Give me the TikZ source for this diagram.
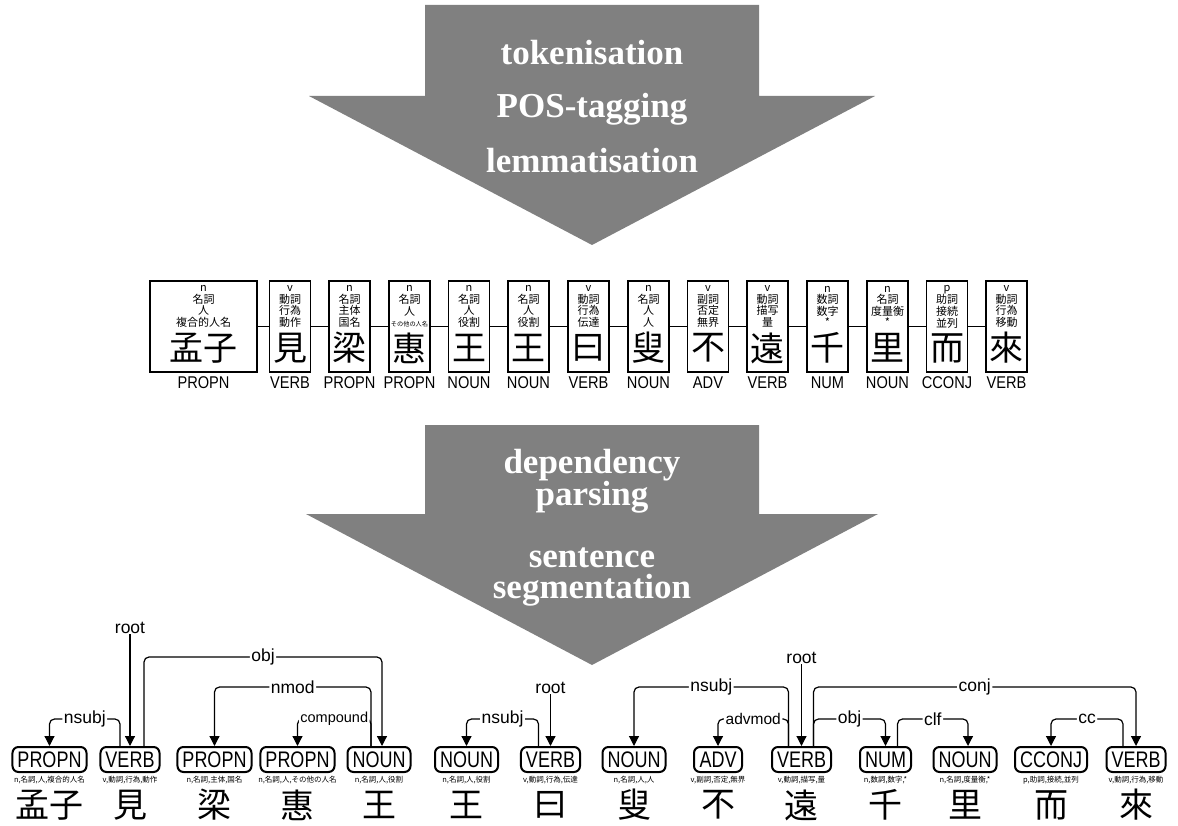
\documentclass[tikz,border=0pt]{standalone}
\usepackage{fontspec}
\setmainfont{Liberation Serif}
\setsansfont{Liberation Sans}
\newfontfamily\cjk{Noto Sans CJK JP}
\newfontfamily\narrowsans[FakeStretch=0.8]{Liberation Sans}
\newfontfamily\uposfont[FakeStretch=0.86]{Liberation Sans}
\usetikzlibrary{arrows.meta,positioning}
\definecolor{stepgray}{RGB}{128,128,128}

\begin{document}
\begin{tikzpicture}[x=1pt,y=-1pt,
  steptext/.style={anchor=base,text=white,inner sep=0,font=\bfseries\fontsize{35}{35}\selectfont},
  tok/.style={draw,line width=1.2pt,minimum width=41pt,minimum height=91pt,inner sep=0},
  feat/.style={align=center,inner sep=0,font=\cjk\fontsize{11}{11.6}\selectfont},
  bigch/.style={inner sep=0,font=\cjk\fontsize{34}{34}\selectfont},
  upos/.style={inner sep=0,font=\uposfont\fontsize{17}{17}\selectfont},
  posbox/.style={draw,line width=2pt,rounded corners=6pt,minimum height=25pt,minimum width=48pt,inner xsep=5pt,inner ysep=0pt,font=\narrowsans\fontsize{22.5}{22.5}\selectfont},
  featsm/.style={inner sep=0,font=\cjk\fontsize{7.5}{7.5}\selectfont},
  arclab/.style={fill=white,inner xsep=1.5pt,inner ysep=0.5pt,font=\sffamily\fontsize{17.5}{17.5}\selectfont},
  dep/.style={line width=1.2pt,rounded corners=5pt,->},
  >={Triangle[length=10pt,width=10pt]}]
\useasboundingbox (0,0) rectangle (1178,826);

% the two big arrows
\fill[stepgray] (425,5) -- (759,5) -- (759,96) -- (875,96) -- (592,245) -- (309,96) -- (425,96) -- cycle;
\fill[stepgray] (425,425) -- (759,425) -- (759,514) -- (878,514) -- (592,665) -- (306,514) -- (425,514) -- cycle;
\node[steptext] (s1) at (592,65) {tokenisation};
\node[steptext] (s2) at (592,118) {POS-tagging};
\node[steptext] (s3) at (592,173) {lemmatisation};
\node[steptext] (s4) at (592,473) {dependency};
\node[steptext] (s5) at (592,505) {parsing};
\node[steptext] (s6) at (592,567) {sentence};
\node[steptext] (s7) at (592,598) {segmentation};

% tokens
\node[tok,minimum width=107pt] (b1) at (203.5,326.5) {};
\node[tok] (b2) at (290,326.5) {};
\node[tok] (b3) at (349.5,326.5) {};
\node[tok] (b4) at (409.5,326.5) {};
\node[tok] (b5) at (469,326.5) {};
\node[tok] (b6) at (528.5,326.5) {};
\node[tok] (b7) at (588.5,326.5) {};
\node[tok] (b8) at (648.5,326.5) {};
\node[tok] (b9) at (708,326.5) {};
\node[tok] (b10) at (767.5,326.5) {};
\node[tok] (b11) at (827.5,326.5) {};
\node[tok] (b12) at (887.5,326.5) {};
\node[tok] (b13) at (947,326.5) {};
\node[tok] (b14) at (1006.5,326.5) {};
\draw[line width=1.2pt] (b1) -- (b2) (b2) -- (b3) (b3) -- (b4) (b4) -- (b5) (b5) -- (b6) (b6) -- (b7) (b7) -- (b8)
  (b8) -- (b9) (b9) -- (b10) (b10) -- (b11) (b11) -- (b12) (b12) -- (b13) (b13) -- (b14);

\node[feat] (f1) at (203.5,306.5) {n\\名詞\\人\\複合的人名};
\node[feat] (f2) at (290,306.5) {v\\動詞\\行為\\動作};
\node[feat] (f3) at (349.5,306.5) {n\\名詞\\主体\\国名};
\node[feat] (f4) at (409.5,306.5) {n\\名詞\\人\\{\fontsize{6.2}{11.6}\selectfont その他の人名}};
\node[feat] (f5) at (469,306.5) {n\\名詞\\人\\役割};
\node[feat] (f6) at (528.5,306.5) {n\\名詞\\人\\役割};
\node[feat] (f7) at (588.5,306.5) {v\\動詞\\行為\\伝達};
\node[feat] (f8) at (648.5,306.5) {n\\名詞\\人\\人};
\node[feat] (f9) at (708,306.5) {v\\副詞\\否定\\無界};
\node[feat] (f10) at (767.5,306.5) {v\\動詞\\描写\\量};
\node[feat] (f11) at (827.5,306.5) {n\\数詞\\数字\\*};
\node[feat] (f12) at (887.5,306.5) {n\\名詞\\度量衡\\*};
\node[feat] (f13) at (947,306.5) {p\\助詞\\接続\\並列};
\node[feat] (f14) at (1006.5,306.5) {v\\動詞\\行為\\移動};

\node[bigch] (c1) at (203.5,348) {孟子};
\node[bigch] (c2) at (290,348) {見};
\node[bigch] (c3) at (349.5,348) {梁};
\node[bigch] (c4) at (409.5,348) {惠};
\node[bigch] (c5) at (469,348) {王};
\node[bigch] (c6) at (528.5,348) {王};
\node[bigch] (c7) at (588.5,348) {曰};
\node[bigch] (c8) at (648.5,348) {叟};
\node[bigch] (c9) at (708,348) {不};
\node[bigch] (c10) at (767.5,348) {遠};
\node[bigch] (c11) at (827.5,348) {千};
\node[bigch] (c12) at (887.5,348) {里};
\node[bigch] (c13) at (947,348) {而};
\node[bigch] (c14) at (1006.5,348) {來};

\node[upos] (p1) at (203.5,383) {PROPN};
\node[upos] (p2) at (290,383) {VERB};
\node[upos] (p3) at (349.5,383) {PROPN};
\node[upos] (p4) at (409.5,383) {PROPN};
\node[upos] (p5) at (469,383) {NOUN};
\node[upos] (p6) at (528.5,383) {NOUN};
\node[upos] (p7) at (588.5,383) {VERB};
\node[upos] (p8) at (648.5,383) {NOUN};
\node[upos] (p9) at (708,383) {ADV};
\node[upos] (p10) at (767.5,383) {VERB};
\node[upos] (p11) at (827.5,383) {NUM};
\node[upos] (p12) at (887.5,383) {NOUN};
\node[upos] (p13) at (947,383) {CCONJ};
\node[upos] (p14) at (1006.5,383) {VERB};

% parsed sentence
\node[posbox] (d1) at (49.5,759.5) {PROPN};
\node[posbox] (d2) at (130,759.5) {VERB};
\node[posbox] (d3) at (214.5,759.5) {PROPN};
\node[posbox] (d4) at (297.5,759.5) {PROPN};
\node[posbox] (d5) at (379,759.5) {NOUN};
\node[posbox] (d6) at (466.5,759.5) {NOUN};
\node[posbox] (d7) at (550.5,759.5) {VERB};
\node[posbox] (d8) at (634,759.5) {NOUN};
\node[posbox] (d9) at (718,759.5) {ADV};
\node[posbox] (d10) at (801.5,759.5) {VERB};
\node[posbox] (d11) at (885.5,759.5) {NUM};
\node[posbox] (d12) at (965,759.5) {NOUN};
\node[posbox] (d13) at (1051,759.5) {CCONJ};
\node[posbox] (d14) at (1136,759.5) {VERB};

\node[featsm] (e1) at (49.5,780) {n,名詞,人,複合的人名};
\node[featsm] (e2) at (130,780) {v,動詞,行為,動作};
\node[featsm] (e3) at (214.5,780) {n,名詞,主体,国名};
\node[featsm] (e4) at (297.5,780) {n,名詞,人,その他の人名};
\node[featsm] (e5) at (379,780) {n,名詞,人,役割};
\node[featsm] (e6) at (466.5,780) {n,名詞,人,役割};
\node[featsm] (e7) at (550.5,780) {v,動詞,行為,伝達};
\node[featsm] (e8) at (634,780) {n,名詞,人,人};
\node[featsm] (e9) at (718,780) {v,副詞,否定,無界};
\node[featsm] (e10) at (801.5,780) {v,動詞,描写,量};
\node[featsm] (e11) at (885.5,780) {n,数詞,数字,*};
\node[featsm] (e12) at (965,780) {n,名詞,度量衡,*};
\node[featsm] (e13) at (1051,780) {p,助詞,接続,並列};
\node[featsm] (e14) at (1136,780) {v,動詞,行為,移動};

\node[bigch] (w1) at (49.5,805) {孟子};
\node[bigch] (w2) at (130,805) {見};
\node[bigch] (w3) at (214.5,805) {梁};
\node[bigch] (w4) at (297.5,805) {惠};
\node[bigch] (w5) at (379,805) {王};
\node[bigch] (w6) at (466.5,805) {王};
\node[bigch] (w7) at (550.5,805) {曰};
\node[bigch] (w8) at (634,805) {叟};
\node[bigch] (w9) at (718,805) {不};
\node[bigch] (w10) at (801.5,805) {遠};
\node[bigch] (w11) at (885.5,805) {千};
\node[bigch] (w12) at (965,805) {里};
\node[bigch] (w13) at (1051,805) {而};
\node[bigch] (w14) at (1136,805) {來};

% dependencies
\node[arclab] (r1) at (130,628) {root};
\draw[dep] (r1) -- (d2);
\draw[dep] ([xshift=-10pt]d2.north) -- ++(0,-27) -| node[arclab,pos=.25] (a1) {nsubj} (d1.north);
\draw[dep] ([xshift=14pt]d2.north) -- ++(0,-89) -| node[arclab,pos=.25] (a2) {obj} ([xshift=3pt]d5.north);
\draw[dep] ([xshift=-8pt]d5.north) -- ++(0,-59) -| node[arclab,pos=.25] (a3) {nmod} (d3.north);
\draw[dep] ([xshift=-8pt]d5.north) -- ++(0,-27) -| node[arclab,pos=.25,font=\sffamily\fontsize{14.5}{14.5}\selectfont] (a4) {compound} (d4.north);
\node[arclab] (r2) at (550.5,688) {root};
\draw[dep] (r2) -- (d7);
\draw[dep] ([xshift=-12pt]d7.north) -- ++(0,-27) -| node[arclab,pos=.25] (a5) {nsubj} (d6.north);
\node[arclab] (r3) at (801.5,658) {root};
\draw[dep] (r3) -- (d10);
\draw[dep] ([xshift=-13pt]d10.north) -- ++(0,-59) -| node[arclab,pos=.25] (a6) {nsubj} (d8.north);
\draw[dep] ([xshift=-13pt]d10.north) -- ++(0,-27) -| node[arclab,pos=.25,font=\sffamily\fontsize{15.5}{15.5}\selectfont] (a7) {advmod} (d9.north);
\draw[dep] ([xshift=12pt]d10.north) -- ++(0,-59) -| node[arclab,pos=.25] (a8) {conj} (d14.north);
\draw[dep] ([xshift=12pt]d10.north) -- ++(0,-27) -| node[arclab,pos=.25] (a9) {obj} (d11.north);
\draw[dep] ([xshift=12pt]d11.north) -- ++(0,-27) -| node[arclab,pos=.25] (a10) {clf} ([xshift=3pt]d12.north);
\draw[dep] ([xshift=-13pt]d14.north) -- ++(0,-27) -| node[arclab,pos=.25] (a11) {cc} (d13.north);
\end{tikzpicture}
\end{document}
